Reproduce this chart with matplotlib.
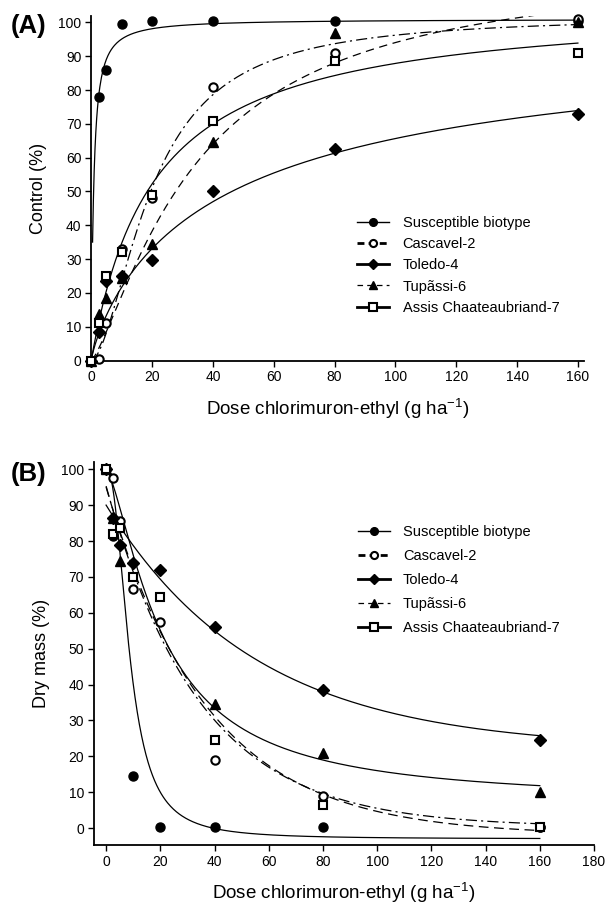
import numpy as np
import matplotlib
matplotlib.use('Agg')
import matplotlib.pyplot as plt
from matplotlib.lines import Line2D

plt.rcParams['font.family'] = ['Liberation Sans', 'DejaVu Sans']
plt.rcParams['mathtext.default'] = 'regular'
plt.rcParams['lines.scale_dashes'] = False

nan = np.nan

# ---------------- data ----------------
doses = [0, 2.5, 5, 10, 20, 40, 80, 160]
labels = ['Susceptible biotype', 'Cascavel-2', 'Toledo-4', 'Tupãssi-6',
          'Assis Chaateaubriand-7']

# Panel A: control (%)
control_susceptible = [0, 78, 86, 99.5, 100.5, 100.5, 100.5, 100.5]
control_cascavel = [0, 0.5, 11, 33, 48, 81, 91, 101]
control_toledo = [0, 8.4, 23.5, 25, 29.6, 50, 62.5, 73]
control_tupassi = [0, 13.8, 18.5, 24.5, 34.5, 64.5, 97, 100]
control_assis = [0, 11, 25, 32, 49, 71, 88.5, 91]

# Panel B: dry mass (%)
drymass_susceptible = [100, 81.5, nan, 14.5, 0.3, 0.3, 0.3, 0.3]
drymass_cascavel = [100, 97.5, 85.5, 66.5, 57.5, 19, 9, 0.3]
drymass_toledo = [100, 86.5, 79, 74, 72, 56, 38.5, 24.5]
drymass_tupassi = [100, 86.5, 74.5, nan, nan, 34.5, 21, 10]
drymass_assis = [100, 82, 83.5, 70, 64.5, 24.5, 6.5, 0.3]

# fitted curves, panel A: upper, x50, slope, start dose (log-logistic)
fitA_upper = [101, 102, 100, 118, 106]
fitA_x50 = [0.8, 20, 46.2, 35.1, 20.6]
fitA_slope = [1.1, 1.75, 0.84, 1.307, 1.0]
fitA_start = [0.45, 0, 0, 0, 0]

# fitted curves, panel B
# log-logistic: lower, upper, x50, slope
fitB_susc = [-3, 100, 8.69, 2.32]
fitB_tupassi = [7, 100, 21, 1.43]
# exponential decay: asymptote, amplitude, rate
fitB_casc = [0.3, 95, 0.029]
fitB_toledo = [22, 68, 0.0181]
fitB_assis = [-2, 97, 0.0268]

# ---------------- style ----------------
mk = {
    'Susceptible biotype': dict(marker='o', mfc='black', mec='black', ms=6.5, mew=1),
    'Cascavel-2': dict(marker='o', mfc='white', mec='black', ms=6, mew=1.5),
    'Toledo-4': dict(marker='D', mfc='black', mec='black', ms=6, mew=1),
    'Tupãssi-6': dict(marker='^', mfc='black', mec='black', ms=6.5, mew=1),
    'Assis Chaateaubriand-7': dict(marker='s', mfc='white', mec='black', ms=6, mew=1.5),
}

fig = plt.figure(figsize=(6.08, 9.09), dpi=100)
axA = fig.add_axes([0.150, 0.6034, 0.8105, 0.3793])
axB = fig.add_axes([0.154, 0.0704, 0.823, 0.4213])


def loglogistic_up(x, upper, x50, slope):
    x = np.asarray(x, float)
    return upper / (1 + (x50 / np.maximum(x, 1e-9)) ** slope)


def loglogistic_down(x, lower, upper, x50, slope):
    return lower + (upper - lower) / (1 + (np.asarray(x) / x50) ** slope)


def expdecay(x, c, a, k):
    return c + a * np.exp(-k * np.asarray(x))


# ---- Panel A ----
styleA = ['-', (0, (8, 3, 1.5, 3)), '-', (0, (6, 4)), '-']
dataA = [control_susceptible, control_cascavel, control_toledo,
         control_tupassi, control_assis]
for i, lab in enumerate(labels):
    xs = np.linspace(fitA_start[i], 160, 600)
    ys = loglogistic_up(xs, fitA_upper[i], fitA_x50[i], fitA_slope[i])
    if fitA_start[i] == 0:
        ys[0] = 0
    axA.plot(xs, ys, color='black', lw=0.9, ls=styleA[i], zorder=2)
for i, lab in enumerate(labels):
    axA.plot(doses, dataA[i], ls='none', zorder=3 + i, clip_on=False, **mk[lab])

axA.set_xlim(0, 162)
axA.set_ylim(0, 102)
axA.set_xticks(np.arange(0, 161, 20))
axA.set_yticks(np.arange(0, 101, 10))

# ---- Panel B ----
xs = np.linspace(0, 160, 600)
curvesB = [
    (loglogistic_down(xs, *fitB_susc), '-'),
    (expdecay(xs, *fitB_casc), (0, (8, 3, 1.5, 3))),
    (expdecay(xs, *fitB_toledo), '-'),
    (loglogistic_down(xs, *fitB_tupassi), '-'),
    (expdecay(xs, *fitB_assis), (0, (7, 4))),
]
for ys, ls in curvesB:
    axB.plot(xs, ys, color='black', lw=0.9, ls=ls, zorder=2)
dataB = [drymass_susceptible, drymass_cascavel, drymass_toledo,
         drymass_tupassi, drymass_assis]
for i, lab in enumerate(labels):
    axB.plot(doses, dataB[i], ls='none', zorder=3 + i, clip_on=False, **mk[lab])

axB.set_xlim(-4.6, 180)
axB.set_ylim(-4.7, 102)
axB.set_xticks(np.arange(0, 181, 20))
axB.set_yticks(np.arange(0, 101, 10))

# ---- common axis styling ----
xlabel = 'Dose chlorimuron-ethyl (g ha$^{-1}$)'
for ax, ylab in [(axA, 'Control (%)'), (axB, 'Dry mass (%)')]:
    for s in ['top', 'right']:
        ax.spines[s].set_visible(False)
    for s in ['left', 'bottom']:
        ax.spines[s].set_linewidth(1.3)
    ax.tick_params(direction='out', length=4, width=1, labelsize=10, pad=3)
    ax.set_xlabel(xlabel, fontsize=13.5, labelpad=9)
    ax.set_ylabel(ylab, fontsize=13, labelpad=8)

# legends
leg_styles = [
    dict(ls='-', lw=1.0),
    dict(ls=(0, (5, 3)), lw=2.0),
    dict(ls='-', lw=2.0),
    dict(ls=(0, (4, 3)), lw=0.9),
    dict(ls='-', lw=2.0),
]
handles = []
for i, lab in enumerate(labels):
    m = dict(mk[lab])
    m['ms'] = m['ms'] * 0.85
    handles.append(Line2D([0], [0], color='black', label=lab, **leg_styles[i], **m))

axA.legend(handles=handles, loc='upper left', bbox_to_anchor=(0.54, 0.42),
           frameon=False, fontsize=10.5, handlelength=2.2, handletextpad=0.9,
           labelspacing=0.5, borderpad=0, borderaxespad=0)
axB.legend(handles=handles, loc='upper left', bbox_to_anchor=(0.528, 0.835),
           frameon=False, fontsize=10.5, handlelength=2.2, handletextpad=0.9,
           labelspacing=0.68, borderpad=0, borderaxespad=0)

fig.text(0.018, 0.971, '(A)', fontsize=18.5, fontweight='bold', va='center', ha='left')
fig.text(0.018, 0.479, '(B)', fontsize=18.5, fontweight='bold', va='center', ha='left')

fig.savefig('out.png', dpi=100)
